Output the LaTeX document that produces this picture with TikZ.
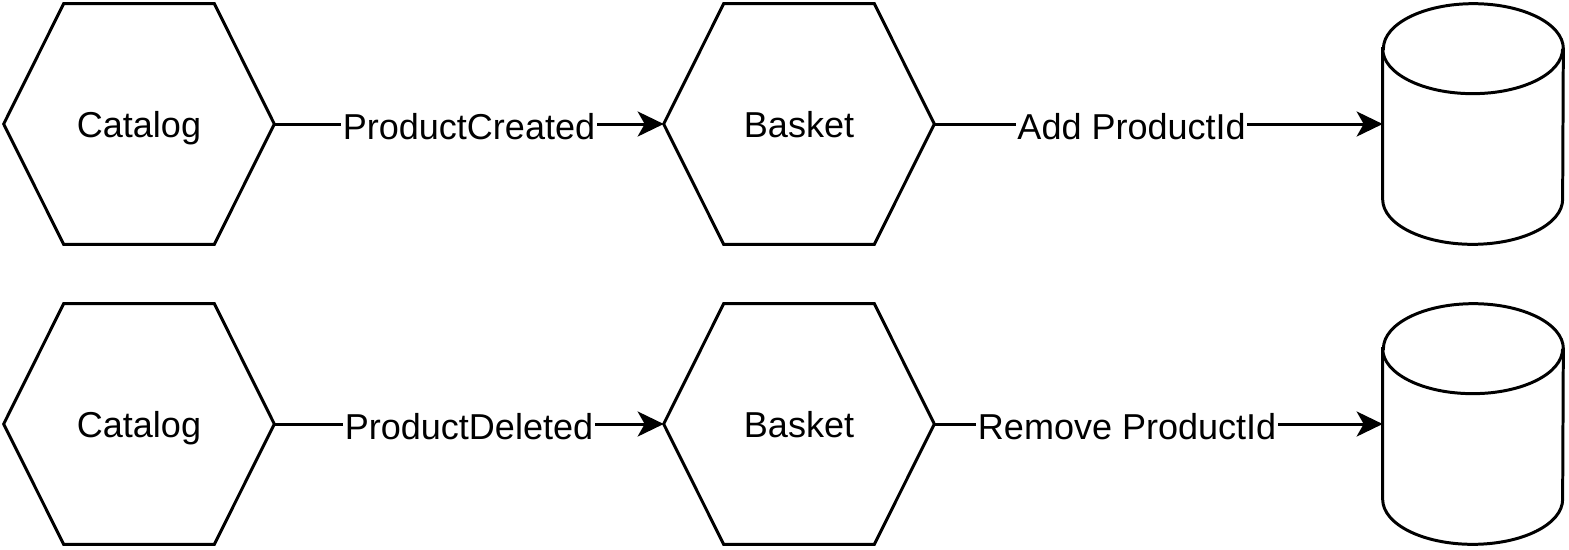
\documentclass[tikz,border=0pt]{standalone}
\usepackage{fontspec}
\setmainfont{Liberation Sans}
\usetikzlibrary{arrows.meta}

\tikzset{
    hexbox/.style={minimum width=5.4cm, minimum height=4.8cm, inner sep=0pt, text depth=0pt, font=\fontsize{20.5}{24}\selectfont},
    dbbox/.style={minimum width=3.6cm, minimum height=4.8cm, inner sep=0pt},
    flow/.style={line width=1.7pt, -{Stealth[length=0.52cm, width=0.5cm, inset=0.14cm]}},
    lbl/.style={fill=white, inner sep=1pt, yshift=-0.05cm, font=\fontsize{20.5}{24}\selectfont}
}

\begin{document}
\begin{tikzpicture}[x=0.02cm, y=-0.02cm]
        \useasboundingbox (0,0) rectangle (1569,549);

        % services and stores
        \node[hexbox] (cat1) at (139,124) {Catalog};
        \node[hexbox] (bsk1) at (799,124) {Basket};
        \node[dbbox] (db1) at (1473,124) {};
        \node[hexbox] (cat2) at (139,424) {Catalog};
        \node[hexbox] (bsk2) at (799,424) {Basket};
        \node[dbbox] (db2) at (1473,424) {};

        \foreach \n in {cat1, bsk1, cat2, bsk2}
            \draw[line width=1.7pt, line join=miter] (\n.west) -- ([xshift=1.2cm]\n.north west) -- ([xshift=-1.2cm]\n.north east)
                -- (\n.east) -- ([xshift=-1.2cm]\n.south east) -- ([xshift=1.2cm]\n.south west) -- cycle;

        \foreach \n in {db1, db2} {
            \draw[line width=1.7pt] ([yshift=-0.9cm]\n.north west) -- ([yshift=0.9cm]\n.south west)
                arc (180:360:1.8cm and 0.9cm) -- ([yshift=-0.9cm]\n.north east)
                arc (0:180:1.8cm and 0.9cm) -- cycle;
            \draw[line width=1.7pt] ([yshift=-0.9cm]\n.north west) arc (180:360:1.8cm and 0.9cm);
        }

        % events
        \draw[flow] (cat1.east) -- (bsk1.west) node[midway, lbl]{ProductCreated};
        \draw[flow] (bsk1.east) -- (db1.west) node[pos=0.44, lbl]{Add ProductId};
        \draw[flow] (cat2.east) -- (bsk2.west) node[midway, lbl]{ProductDeleted};
        \draw[flow] (bsk2.east) -- (db2.west) node[pos=0.43, lbl]{Remove ProductId};
    \end{tikzpicture}
\end{document}
